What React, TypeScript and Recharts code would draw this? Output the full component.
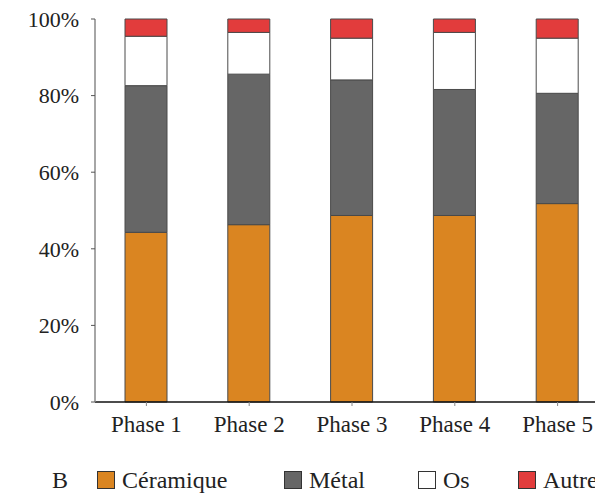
import React from "react";
import { BarChart, Bar, XAxis, YAxis, Legend } from "recharts";

const phases = ["Phase 1", "Phase 2", "Phase 3", "Phase 4", "Phase 5"];
const ceramique = [44.3, 46.3, 48.7, 48.7, 51.8];
const metal = [38.3, 39.3, 35.4, 32.9, 28.8];
const os = [12.9, 10.9, 10.9, 14.9, 14.4];
const autre = [4.5, 3.5, 5.0, 3.5, 5.0];
const yTicks = [0, 20, 40, 60, 80, 100];

const series = [
  { key: "ceramique", name: "Céramique", color: "#DA8521", values: ceramique, width: 187 },
  { key: "metal", name: "Métal", color: "#666666", values: metal, width: 134 },
  { key: "os", name: "Os", color: "#FFFFFF", values: os, width: 100 },
  { key: "autre", name: "Autre", color: "#E23C3C", values: autre, width: 80 },
];

const data = phases.map((phase, i) => {
  const row: Record<string, string | number> = { phase };
  series.forEach((s) => {
    row[s.key] = s.values[i];
  });
  return row;
});

const font = "'Liberation Serif', 'Times New Roman', serif";

function LegendContent() {
  return (
    <div
      style={{
        width: 609,
        height: 28,
        display: "flex",
        alignItems: "center",
        paddingLeft: 52,
        paddingTop: 2,
        boxSizing: "border-box",
        fontFamily: font,
        fontSize: 24,
        color: "#222",
        lineHeight: "24px",
        whiteSpace: "nowrap",
      }}
    >
      <span style={{ width: 45, display: "inline-block", flexShrink: 0 }}>B</span>
      {series.map((s) => (
        <span
          key={s.key}
          style={{ width: s.width, display: "inline-flex", alignItems: "center", flexShrink: 0 }}
        >
          <span
            style={{
              width: 16,
              height: 16,
              background: s.color,
              border: "1px solid #333",
              display: "inline-block",
              marginRight: 7,
              flexShrink: 0,
            }}
          />
          {s.name}
        </span>
      ))}
    </div>
  );
}

export default function App() {
  return (
    <div
      style={{
        position: "fixed",
        left: 0,
        top: 0,
        width: 595,
        height: 493,
        overflow: "hidden",
        background: "#fff",
      }}
    >
      <BarChart
        width={609}
        height={493}
        data={data}
        margin={{ top: 19, right: 0, left: 35, bottom: 0 }}
        barSize={42}
      >
        <XAxis
          dataKey="phase"
          height={63}
          tickSize={4}
          tickMargin={10}
          axisLine={{ stroke: "#111", strokeWidth: 1.5 }}
          tickLine={{ stroke: "#888" }}
          tick={{ fill: "#222", fontSize: 23, fontFamily: font }}
        />
        <YAxis
          domain={[0, 100]}
          ticks={yTicks}
          width={60}
          tickSize={4}
          tickMargin={12}
          tickFormatter={(v) => `${v}%`}
          axisLine={{ stroke: "#888", strokeWidth: 1.5 }}
          tickLine={{ stroke: "#555" }}
          tick={{ fill: "#222", fontSize: 22, fontFamily: font }}
        />
        <Legend
          verticalAlign="bottom"
          content={<LegendContent />}
          wrapperStyle={{ left: 0, width: 609 }}
        />
        {series.map((s) => (
          <Bar
            key={s.key}
            dataKey={s.key}
            name={s.name}
            stackId="a"
            fill={s.color}
            stroke="#4a4a4a"
            strokeWidth={1}
            isAnimationActive={false}
          />
        ))}
      </BarChart>
    </div>
  );
}
